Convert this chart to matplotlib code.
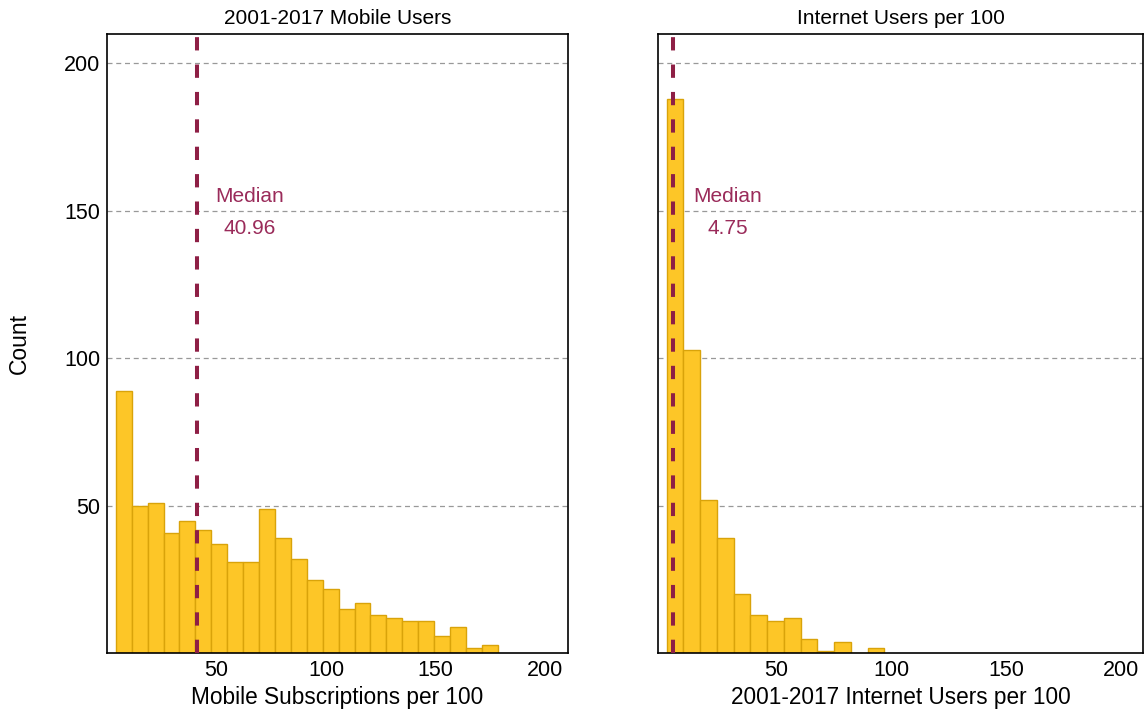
import matplotlib
matplotlib.use("Agg")
import matplotlib.pyplot as plt
import numpy as np

plt.rcParams["font.family"] = ["Liberation Sans", "DejaVu Sans"]

# histogram counts
mobile_start = 4.0
mobile_width = 7.27
mobile_counts = [89, 50, 51, 41, 45, 42, 37, 31, 31, 49, 39, 32,
                 25, 22, 15, 17, 13, 12, 11, 11, 6, 9, 2, 3]
mobile_median = 40.96

internet_start = 2.1
internet_width = 7.29
internet_counts = [188, 103, 52, 39, 20, 13, 11, 12, 5, 1, 4, 0, 2]
internet_median = 4.75

titles = ["2001-2017 Mobile Users", "Internet Users per 100"]
xlabels = ["Mobile Subscriptions per 100", "2001-2017 Internet Users per 100"]
yticks = [50, 100, 150, 200]
xticks = [50, 100, 150, 200]

BAR = "#FDC627"
EDGE = "#D9A30A"
LINE = "#8E1F45"
TEXT = "#9A2B5A"

fig = plt.figure(figsize=(11.46, 7.17), dpi=100)
ax1 = fig.add_axes([0.0934, 0.0886, 0.4022, 0.864])
ax2 = fig.add_axes([0.5742, 0.0886, 0.4232, 0.864])

panels = [
    (ax1, mobile_start, mobile_width, mobile_counts, mobile_median, (0, 210.5)),
    (ax2, internet_start, internet_width, internet_counts, internet_median, (-1.6, 209.5)),
]

for i, (ax, start, width, counts, med, xlim) in enumerate(panels):
    edges = start + width * np.arange(len(counts) + 1)
    ax.bar(edges[:-1], counts, width=width, align="edge",
           color=BAR, edgecolor=EDGE, linewidth=1, zorder=2)
    ax.axvline(med, color=LINE, lw=2.9, dashes=(3.3, 3.5), zorder=3)
    ax.text(med + 24, 149.5, f"Median\n{med:.2f}", color=TEXT, fontsize=15,
            ha="center", va="center", linespacing=1.84, zorder=4)
    ax.set_xlim(*xlim)
    ax.set_ylim(0, 210)
    ax.set_yticks(yticks)
    ax.set_xticks(xticks)
    ax.grid(axis="y", color="#999999", linestyle=(0, (4, 3)), lw=0.9, zorder=1)
    ax.set_axisbelow(True)
    ax.tick_params(length=0, labelsize=15.5, pad=5)
    ax.set_title(titles[i], fontsize=15, pad=7)
    ax.set_xlabel(xlabels[i], fontsize=16.3, labelpad=3)
    for s in ax.spines.values():
        s.set_color("black")
        s.set_linewidth(1.2)

ax2.set_yticklabels([])
ax1.set_ylabel("Count", fontsize=16.5, labelpad=24)

plt.savefig("out.png", dpi=100)
